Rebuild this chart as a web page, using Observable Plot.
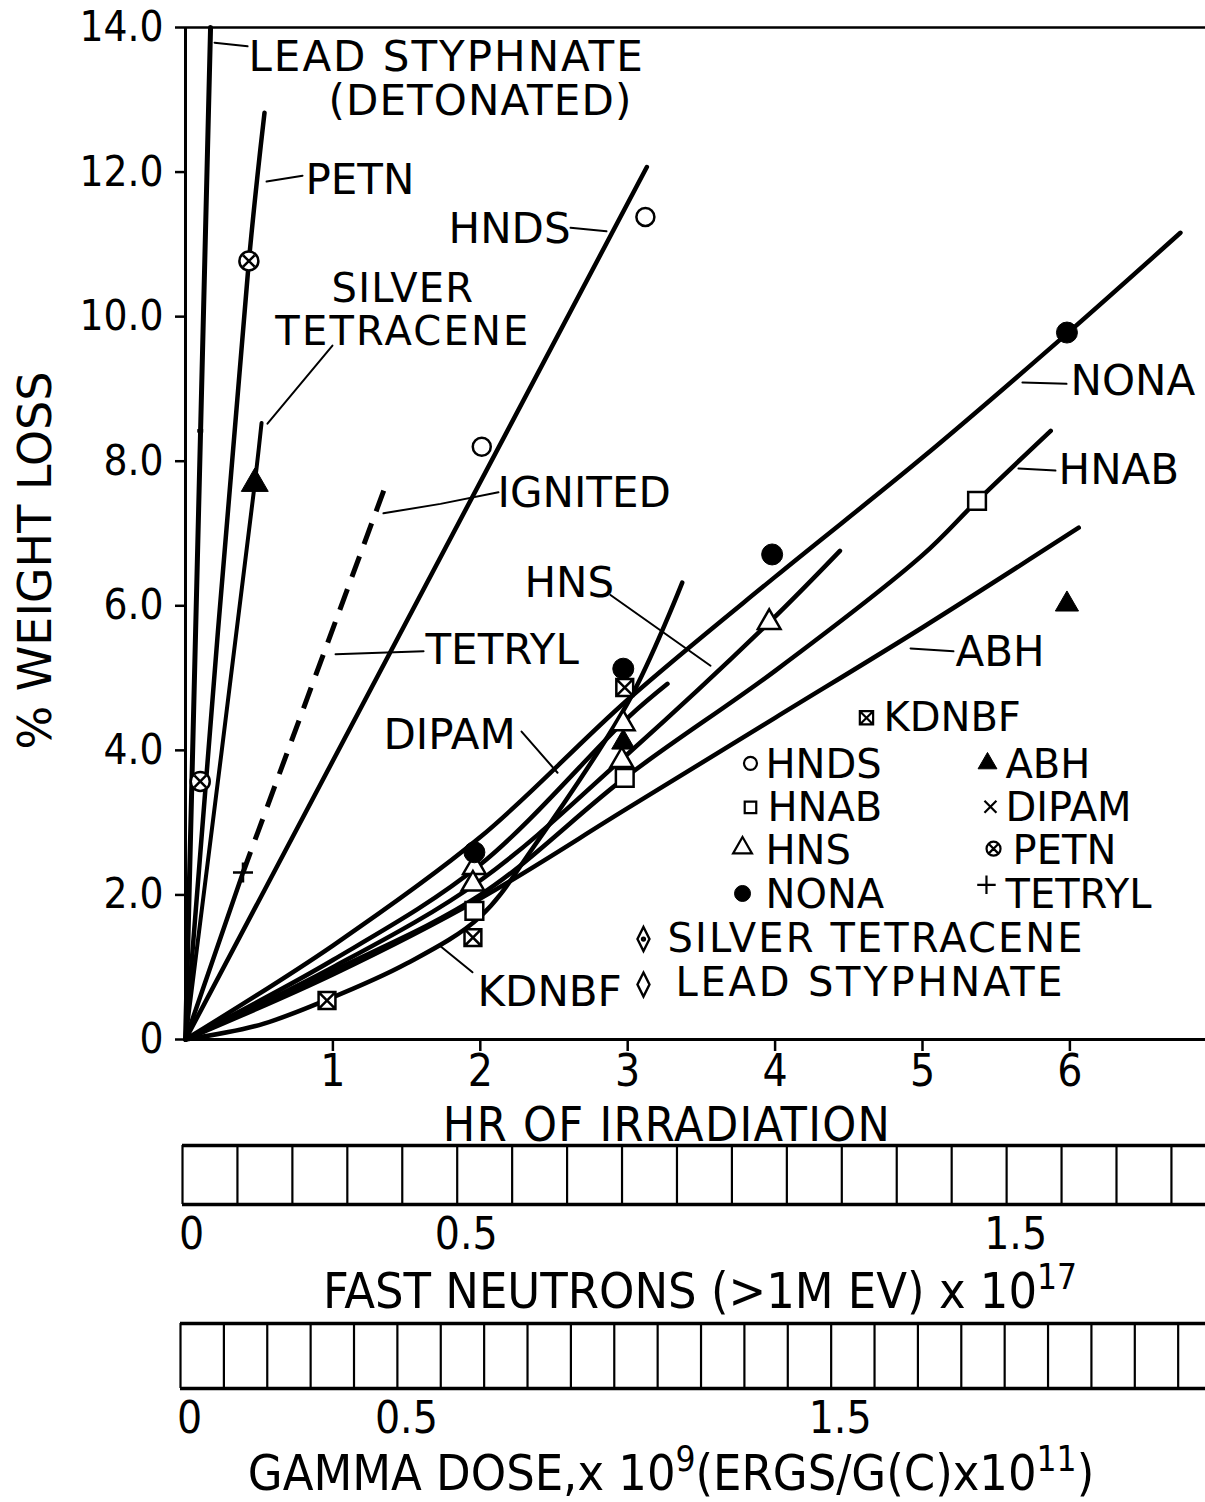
<!DOCTYPE html>
<html>
<head>
<meta charset="utf-8">
<script src="https://cdn.jsdelivr.net/npm/d3@7"></script>
<script src="https://cdn.jsdelivr.net/npm/@observablehq/plot@0.6"></script>
<style>
html,body{margin:0;padding:0;background:#fff;overflow:hidden}
#wrap{position:relative;width:1205px;height:1502px;background:#fff;color:#000;overflow:hidden}
.abs{position:absolute;left:0}
.title{position:absolute;font-family:'DejaVu Sans Condensed','Liberation Sans Narrow','DejaVu Sans',sans-serif;font-size:50px;line-height:36px;white-space:nowrap;transform:translateX(-50%);color:#000}
.sup{font-size:0.7em;position:relative;top:-0.55em}
</style>
</head>
<body>
<div id="wrap">
  <div id="main" class="abs" style="top:0"></div>
  <div class="title" style="left:667px;top:1106px;font-size:48px;letter-spacing:1.3px">HR OF IRRADIATION</div>
  <div id="neutron" class="abs" style="top:1135px"></div>
  <div class="title" style="left:700px;top:1273px">FAST NEUTRONS (&gt;1M EV) x 10<span class="sup">17</span></div>
  <div id="gamma" class="abs" style="top:1313px"></div>
  <div class="title" style="left:671px;top:1455px">GAMMA DOSE,x 10<span class="sup">9</span>(ERGS/G(C)x10<span class="sup">11</span>)</div>
</div>
<script>
// ---------------- DATA (hours of irradiation, % weight loss) ----------------
const xTicks = [1, 2, 3, 4, 5, 6];
const yTicks = [0, 2, 4, 6, 8, 10, 12, 14];
const xMax = 6.92;

const leadStyphnateLine = [[0, 0], [0.17, 14.0]];
const petnLine = [[0, 0], [0.43, 10.77], [0.536, 12.82]];
const silverTetraceneLine = [[0, 0], [0.47, 7.69], [0.516, 8.53]];
const tetrylSolidLine = [[0, 0], [0.39, 2.31]];
const tetrylIgnitedLine = [[0.39, 2.31], [1.357, 7.66]];
const hndsLine = [[0, 0], [3.13, 12.07]];
const nonaLine = [[0, 0], [1, 1.3], [2, 2.8], [3, 4.7], [4, 6.4], [5, 8.05], [6, 9.8], [6.75, 11.16]];
const dipamLine = [[0, 0], [1, 1.1], [2, 2.42], [3, 4.45], [3.27, 4.92]];
const hnsLine = [[0, 0], [1, 1.0], [2, 2.2], [3, 3.95], [3.96, 5.77], [4.44, 6.76]];
const hnabLine = [[0, 0], [1, 0.95], [2, 2.0], [3, 3.65], [4, 5.1], [5, 6.7], [5.37, 7.45], [5.87, 8.42]];
const abhLine = [[0, 0], [1, 0.9], [2, 1.95], [3, 3.2], [4, 4.45], [5, 5.7], [6.06, 7.08]];
const kdnbfLine = [[0, 0], [0.5, 0.2], [0.96, 0.55], [1.5, 1.05], [2, 1.7], [2.36, 2.66], [3.02, 4.73], [3.37, 6.32]];

const hndsPts = [[2.01, 8.2], [3.12, 11.38]];
const hnabPts = [[1.96, 1.78], [2.98, 3.62], [5.37, 7.45]];
const hnsPts = [[1.96, 2.38], [1.95, 2.15], [2.97, 4.37], [2.96, 3.86], [3.96, 5.77]];
const nonaPts = [[1.96, 2.59], [2.97, 5.13], [3.98, 6.71], [5.98, 9.78]];
const abhPts = [[2.97, 4.11], [5.98, 6.02]];
const kdnbfPts = [[0.96, 0.54], [1.95, 1.41], [2.98, 4.87]];
const petnPts = [[0.1, 3.57], [0.43, 10.77]];
const tetrylPts = [[0.39, 2.31]];
const silverTetracenePts = [[0.47, 7.69]];
const leadStyphnatePts = [[0.1, 8.42]];

// lower scales
const neutronCells = [0, 0.1, 0.2, 0.3, 0.4, 0.5, 0.6, 0.7, 0.8, 0.9, 1.0, 1.1, 1.2, 1.3, 1.4, 1.5, 1.6, 1.7, 1.8];
const neutronTicks = [0, 0.5, 1.5];
const neutronMax = 1.862;
const gammaCells = [0, 0.1, 0.2, 0.3, 0.4, 0.5, 0.6, 0.7, 0.8, 0.9, 1.0, 1.1, 1.2, 1.3, 1.4, 1.5, 1.6, 1.7, 1.8, 1.9, 2.0, 2.1, 2.2, 2.3];
const gammaTicks = [0, 0.5, 1.5];
const gammaMax = 2.363;

// ---------------- LAYOUT (annotation placement, in chart units) ----------------
const labelTexts = ["LEAD STYPHNATE", "(DETONATED)", "PETN", "HNDS", "IGNITED", "TETRYL", "HNS", "DIPAM", "NONA", "HNAB", "ABH", "KDNBF"];
const labelPos = [[0.427, 13.58], [0.970, 12.97], [0.814, 11.88], [1.785, 11.20], [2.117, 7.55], [1.628, 5.38], [2.30, 6.31], [1.343, 4.20], [6.004, 9.10], [5.923, 7.87], [5.224, 5.35], [1.981, 0.65]];
const centeredLabels = ["SILVER\nTETRACENE"];
const centeredPos = [[1.475, 10.10]];
const leaderPos = [
  [[0.197, 13.79], [0.421, 13.74]],
  [[0.55, 11.87], [0.794, 11.95]],
  [[2.612, 11.23], [2.856, 11.18]],
  [[0.997, 9.60], [0.556, 8.52]],
  [[1.343, 7.28], [1.73, 7.41], [2.123, 7.57]],
  [[1.018, 5.33], [1.615, 5.37]],
  [[2.883, 6.15], [3.562, 5.17]],
  [[2.28, 4.26], [2.524, 3.69]],
  [[5.678, 9.09], [5.977, 9.07]],
  [[5.651, 7.90], [5.902, 7.87]],
  [[4.919, 5.41], [5.21, 5.37]],
  [[1.73, 1.29], [1.947, 0.93]]
];
const legendLabels = ["KDNBF", "HNDS", "ABH", "HNAB", "DIPAM", "HNS", "PETN", "NONA", "TETRYL", "SILVER TETRACENE", "LEAD STYPHNATE"];
const legendPos = [
  [4.62, 4.45, 4.735, 4.44], [3.833, 3.82, 3.935, 3.80], [5.441, 3.82, 5.563, 3.80],
  [3.833, 3.21, 3.948, 3.195], [5.461, 3.22, 5.563, 3.195], [3.779, 2.65, 3.935, 2.60],
  [5.482, 2.64, 5.611, 2.60], [3.779, 2.02, 3.935, 1.99], [5.434, 2.14, 5.563, 1.99],
  [3.107, 1.39, 3.27, 1.383], [3.107, 0.76, 3.324, 0.775]
];
const labelSpacing = {"LEAD STYPHNATE": 2, "(DETONATED)": 1.1, "SILVER": 1.2, "TETRACENE": 2.2};
const legendSpacing = {"SILVER TETRACENE": 2.1, "LEAD STYPHNATE": 2.8};

// ---------------- SYMBOLS ----------------
const squareX = {draw(c, size) { const s = Math.sqrt(size) / 2; c.rect(-s, -s, 2 * s, 2 * s); c.moveTo(-s, -s); c.lineTo(s, s); c.moveTo(s, -s); c.lineTo(-s, s); }};
const circleX = {draw(c, size) { const r = Math.sqrt(size / Math.PI); c.moveTo(r, 0); c.arc(0, 0, r, 0, 2 * Math.PI); const k = r * 0.6; c.moveTo(-k, -k); c.lineTo(k, k); c.moveTo(k, -k); c.lineTo(-k, k); }};
const tallDiamond = {draw(c, size) { const h = Math.sqrt(size / Math.PI), w = h * 0.5; c.moveTo(0, -h); c.lineTo(w, 0); c.lineTo(0, h); c.lineTo(-w, 0); c.closePath(); }};
const tallDiamondDot = {draw(c, size) { const h = Math.sqrt(size / Math.PI), w = h * 0.5; c.moveTo(0, -h); c.lineTo(w, 0); c.lineTo(0, h); c.lineTo(-w, 0); c.closePath(); const d = h * 0.12; c.moveTo(d, 0); c.arc(0, 0, d, 0, 2 * Math.PI); }};
const dashSym = {draw(c, size) { const r = Math.sqrt(size / Math.PI); c.moveTo(-r, 0); c.lineTo(r, 0); }};

const FONT = "'DejaVu Sans', 'Liberation Sans', sans-serif";
const FONT_C = "'DejaVu Sans Condensed', 'Liberation Sans Narrow', 'DejaVu Sans', sans-serif";
const P = d => ({h: d[0], w: d[1]});

const lineSpecs = [
  [leadStyphnateLine, 5, null], [petnLine, 4.5, null], [silverTetraceneLine, 4, null],
  [tetrylSolidLine, 4.5, null], [tetrylIgnitedLine, 5, "22,13"], [hndsLine, 4.5, null],
  [nonaLine, 4.5, null], [dipamLine, 4.5, null], [hnsLine, 4.5, null],
  [hnabLine, 4.5, null], [abhLine, 4.5, null], [kdnbfLine, 4.5, null]
];
const lineMarks = lineSpecs.map(([data, sw, dash]) => Plot.line(data.map(P), {
  x: "h", y: "w", stroke: "#000", strokeWidth: sw, curve: "catmull-rom",
  strokeDasharray: dash || undefined, strokeLinecap: dash ? "butt" : "round"
}));

const dotSpecs = [
  [hndsPts, {symbol: "circle", r: 9, fill: "#fff", stroke: "#000", strokeWidth: 2.5}],
  [hnabPts, {symbol: "square", r: 10, fill: "#fff", stroke: "#000", strokeWidth: 2.5}],
  [hnsPts, {symbol: "triangle", r: 8.4, fill: "#fff", stroke: "#000", strokeWidth: 2.5}],
  [nonaPts, {symbol: "circle", r: 10.5, fill: "#000", stroke: "#000", strokeWidth: 1}],
  [abhPts, {symbol: "triangle", r: 8.6, fill: "#000", stroke: "#000", strokeWidth: 1}],
  [kdnbfPts, {symbol: squareX, r: 9.5, fill: "#fff", stroke: "#000", strokeWidth: 2.5}],
  [petnPts, {symbol: circleX, r: 9.5, fill: "#fff", stroke: "#000", strokeWidth: 2.5}],
  [tetrylPts, {symbol: "plus", r: 6.5, fill: "none", stroke: "#000", strokeWidth: 2.5}],
  [silverTetracenePts, {symbol: "triangle", r: 10, fill: "#000", stroke: "#000", strokeWidth: 1}],
  [leadStyphnatePts, {symbol: dashSym, r: 3, fill: "none", stroke: "#000", strokeWidth: 3.5}]
];
const dotMarks = dotSpecs.map(([data, o]) => Plot.dot(data.map(P), {x: "h", y: "w", ...o}));

const legendSym = [
  {symbol: squareX, r: 7.5, fill: "#fff", stroke: "#000", strokeWidth: 2.2},
  {symbol: "circle", r: 6.5, fill: "#fff", stroke: "#000", strokeWidth: 2.2},
  {symbol: "triangle", r: 7, fill: "#000", stroke: "#000", strokeWidth: 1},
  {symbol: "square", r: 6.5, fill: "#fff", stroke: "#000", strokeWidth: 2.2},
  {symbol: "times", r: 5.5, fill: "none", stroke: "#000", strokeWidth: 2.2},
  {symbol: "triangle", r: 7, fill: "#fff", stroke: "#000", strokeWidth: 2.2},
  {symbol: circleX, r: 7, fill: "#fff", stroke: "#000", strokeWidth: 2.2},
  {symbol: "circle", r: 8, fill: "#000", stroke: "#000", strokeWidth: 1},
  {symbol: "plus", r: 6, fill: "none", stroke: "#000", strokeWidth: 2.2},
  {symbol: tallDiamondDot, r: 12, fill: "#fff", stroke: "#000", strokeWidth: 2.4},
  {symbol: tallDiamond, r: 12, fill: "#fff", stroke: "#000", strokeWidth: 2.4}
];
const legendMarks = legendLabels.flatMap((lab, i) => {
  const [sx, sy, tx, ty] = legendPos[i];
  return [
    Plot.dot([{h: sx, w: sy}], {x: "h", y: "w", ...legendSym[i]}),
    Plot.text([{h: tx, w: ty, t: lab}], {x: "h", y: "w", text: "t", textAnchor: "start", lineAnchor: "middle", fontSize: 40, fontFamily: FONT, fill: "#000"})
  ];
});

const labels = labelTexts.map((t, i) => ({t, h: labelPos[i][0], w: labelPos[i][1]}));
const cLabels = centeredLabels.map((t, i) => ({t, h: centeredPos[i][0], w: centeredPos[i][1]}));
const leaders = leaderPos.flatMap((pts, i) => pts.map(p => ({id: i, h: p[0], w: p[1]})));

const main = Plot.plot({
  width: 1205, height: 1100,
  marginLeft: 185, marginRight: 0, marginTop: 27, marginBottom: 61,
  style: {background: "#fff", color: "#000", overflow: "visible"},
  x: {domain: [0, xMax]},
  y: {domain: [0, 14]},
  marks: [
    Plot.axisY({ticks: yTicks, tickSize: 10, tickPadding: 12, strokeWidth: 2.5, fontSize: 42, fontFamily: FONT_C,
      tickFormat: d => d === 0 ? "0" : d.toFixed(1), label: null}),
    Plot.axisX({ticks: xTicks, tickSize: 12, tickPadding: 3, strokeWidth: 2.5, fontSize: 44, fontFamily: FONT_C,
      tickFormat: d => String(d), label: null}),
    Plot.ruleX([0], {stroke: "#000", strokeWidth: 3}),
    Plot.ruleY([0], {stroke: "#000", strokeWidth: 3}),
    Plot.ruleY([14], {stroke: "#000", strokeWidth: 2.5}),
    Plot.text(["% WEIGHT LOSS"], {text: d => d, frameAnchor: "left", rotate: -90, dx: -149, dy: 27,
      fontSize: 46, fontFamily: FONT, textAnchor: "middle", lineAnchor: "middle", fill: "#000"}),
    ...lineMarks,
    Plot.line(leaders, {x: "h", y: "w", z: "id", stroke: "#000", strokeWidth: 2}),
    ...dotMarks,
    Plot.text(labels, {x: "h", y: "w", text: "t", textAnchor: "start", lineAnchor: "middle", fontSize: 42, fontFamily: FONT, fill: "#000"}),
    Plot.text(cLabels, {x: "h", y: "w", text: "t", textAnchor: "middle", lineAnchor: "middle", lineHeight: 1.08, fontSize: 40, fontFamily: FONT, fill: "#000"}),
    ...legendMarks
  ]
});
d3.select(main).selectAll("text, tspan").each(function () {
  const g = this.closest("[font-size]");
  const fs = g ? g.getAttribute("font-size") : null;
  const map = fs === "40" && this.tagName === "text" ? legendSpacing : labelSpacing;
  const s = map[this.textContent];
  if (s) this.setAttribute("letter-spacing", s);
});
document.getElementById("main").append(main);

function barScale(cells, ticks, max, left, barH, total) {
  return Plot.plot({
    width: 1205, height: total,
    marginLeft: left, marginRight: 0, marginTop: 10, marginBottom: total - 10 - barH,
    style: {background: "transparent", color: "#000"},
    x: {domain: [0, max]},
    y: {domain: [0, 1], axis: null},
    marks: [
      Plot.ruleX(cells, {stroke: "#000", strokeWidth: 2.2}),
      Plot.ruleY([0, 1], {stroke: "#000", strokeWidth: 3.5}),
      Plot.axisX({ticks, tickSize: 0, tickPadding: 13, fontSize: 44, fontFamily: FONT_C, dx: 9,
        tickFormat: d => String(d), label: null})
    ]
  });
}
document.getElementById("neutron").append(barScale(neutronCells, neutronTicks, neutronMax, 182, 59, 132));
document.getElementById("gamma").append(barScale(gammaCells, gammaTicks, gammaMax, 180, 65, 140));
</script>
</body>
</html>
